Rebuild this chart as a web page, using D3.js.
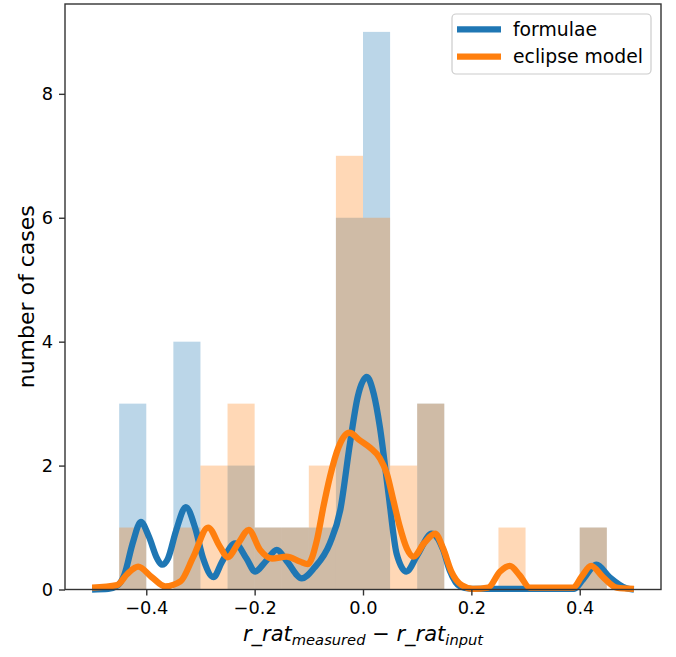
<!DOCTYPE html>
<html>
<head>
<meta charset="utf-8">
<script src="https://cdn.jsdelivr.net/npm/d3@7"></script>
<style>
  body { margin: 0; background: #fff; }
  text { font-family: "DejaVu Sans", sans-serif; fill: #000; }
</style>
</head>
<body>
<div id="chart"></div>
<script>
// histogram bins (width 0.05) and counts per series
const binEdges = [-0.45, -0.40, -0.35, -0.30, -0.25, -0.20, -0.15, -0.10, -0.05, 0.00,
                  0.05, 0.10, 0.15, 0.20, 0.25, 0.30, 0.35, 0.40, 0.45];
const formulaeCounts = [3, 0, 4, 0, 2, 1, 1, 1, 6, 9, 0, 3, 0, 0, 0, 0, 0, 1];
const eclipseCounts  = [1, 0, 1, 2, 3, 1, 1, 2, 7, 6, 2, 3, 0, 0, 1, 0, 0, 1];

// kde curves: [x, count]
const formulaeKde = [
  [-0.5, 0.0], [-0.47, 0.01], [-0.455, 0.05], [-0.44, 0.25], [-0.425, 0.75], [-0.41, 1.09],
  [-0.395, 0.85], [-0.38, 0.5], [-0.371, 0.40], [-0.36, 0.5], [-0.345, 0.95], [-0.327, 1.33],
  [-0.31, 1.0], [-0.295, 0.5], [-0.276, 0.2], [-0.26, 0.45], [-0.236, 0.745], [-0.215, 0.5],
  [-0.199, 0.29], [-0.18, 0.45], [-0.159, 0.64], [-0.14, 0.45], [-0.113, 0.18], [-0.09, 0.35],
  [-0.061, 0.75], [-0.042, 1.28], [-0.024, 2.36], [-0.01, 3.1], [0.007, 3.43], [0.02, 3.15],
  [0.031, 2.63], [0.047, 1.55], [0.062, 0.58], [0.08, 0.29], [0.1, 0.55], [0.127, 0.9],
  [0.148, 0.64], [0.16, 0.31], [0.179, 0.05], [0.2, 0.01], [0.39, 0.01], [0.405, 0.15],
  [0.431, 0.40], [0.455, 0.2], [0.486, 0.02], [0.5, 0.0]
];
const eclipseKde = [
  [-0.5, 0.03], [-0.454, 0.07], [-0.435, 0.25], [-0.415, 0.37], [-0.39, 0.2], [-0.365, 0.05],
  [-0.337, 0.13], [-0.313, 0.53], [-0.286, 1.0], [-0.264, 0.69], [-0.25, 0.52], [-0.23, 0.75],
  [-0.211, 0.96], [-0.19, 0.64], [-0.168, 0.50], [-0.141, 0.53], [-0.116, 0.45], [-0.102, 0.41],
  [-0.085, 0.80], [-0.073, 1.34], [-0.061, 1.82], [-0.045, 2.30], [-0.025, 2.53], [-0.006, 2.41],
  [0.013, 2.29], [0.031, 2.12], [0.044, 1.87], [0.056, 1.44], [0.068, 1.01], [0.081, 0.66],
  [0.093, 0.53], [0.113, 0.75], [0.133, 0.90], [0.148, 0.66], [0.163, 0.29], [0.182, 0.07],
  [0.203, 0.01], [0.231, 0.03], [0.253, 0.29], [0.271, 0.38], [0.289, 0.23], [0.308, 0.03],
  [0.388, 0.03], [0.403, 0.2], [0.421, 0.38], [0.443, 0.2], [0.468, 0.03], [0.5, 0.01]
];

const xTicks = [-0.4, -0.2, 0.0, 0.2, 0.4];
const yTicks = [0, 2, 4, 6, 8];
const seriesNames = ['formulae', 'eclipse model'];

const width = 676, height = 657;
const margin = {top: 4, right: 15, bottom: 67.5, left: 65};
const blue = '#1f77b4', orange = '#ff7f0e';
const lineW = 6.3;

const svg = d3.select('#chart')
    .append('svg')
    .attr('width', width)
    .attr('height', height);

const x = d3.scaleLinear().domain([-0.55, 0.55]).range([margin.left, width - margin.right]);
const y = d3.scaleLinear().domain([0, 9.45]).range([height - margin.bottom, margin.top]);

// histograms, orange drawn over blue
function drawHist(counts, color) {
    svg.append('g')
        .selectAll('rect')
        .data(counts.map((c, i) => ({x0: binEdges[i], x1: binEdges[i + 1], c: c})).filter(d => d.c > 0))
        .enter()
        .append('rect')
        .attr('x', d => x(d.x0))
        .attr('width', d => x(d.x1) - x(d.x0))
        .attr('y', d => y(d.c))
        .attr('height', d => y(0) - y(d.c))
        .attr('fill', color)
        .attr('fill-opacity', 0.3);
}
drawHist(formulaeCounts, blue);
drawHist(eclipseCounts, orange);

// kde lines
const line = d3.line()
    .x(d => x(d[0]))
    .y(d => y(d[1]))
    .curve(d3.curveMonotoneX);

[[formulaeKde, blue], [eclipseKde, orange]].forEach(([data, color]) => {
    svg.append('path')
        .attr('d', line(data))
        .attr('fill', 'none')
        .attr('stroke', color)
        .attr('stroke-width', lineW)
        .attr('stroke-linejoin', 'round');
});

// axes
const xAxis = svg.append('g')
    .attr('transform', `translate(0,${y(0)})`)
    .call(d3.axisBottom(x).tickValues(xTicks).tickSize(6).tickPadding(6)
        .tickFormat(d => d3.format('.1f')(d).replace('-', '\u2212')));
const yAxis = svg.append('g')
    .attr('transform', `translate(${x.range()[0]},0)`)
    .call(d3.axisLeft(y).tickValues(yTicks).tickSize(6).tickPadding(6));

[xAxis, yAxis].forEach(g => {
    g.select('.domain').remove();
    g.selectAll('.tick line').attr('stroke', '#333').attr('stroke-width', 1.4);
    g.selectAll('.tick text')
        .attr('font-family', '"DejaVu Sans", sans-serif')
        .attr('font-size', 17.8)
        .attr('fill', '#000');
});

// frame
svg.append('rect')
    .attr('x', x.range()[0])
    .attr('y', y.range()[1])
    .attr('width', x.range()[1] - x.range()[0])
    .attr('height', y.range()[0] - y.range()[1])
    .attr('fill', 'none')
    .attr('stroke', '#333')
    .attr('stroke-width', 1.4);

// y label
svg.append('text')
    .attr('transform', `translate(34,${(y.range()[0] + y.range()[1]) / 2}) rotate(-90)`)
    .attr('text-anchor', 'middle')
    .attr('font-size', 22)
    .text('number of cases');

// x label (mathtext-like)
const xl = svg.append('text')
    .attr('x', (x.range()[0] + x.range()[1]) / 2)
    .attr('y', 641)
    .attr('text-anchor', 'middle')
    .attr('font-size', 21);
xl.append('tspan').attr('font-style', 'italic').text('r_rat');
xl.append('tspan').attr('font-style', 'italic').attr('font-size', 14.7).attr('dy', 4).text('measured');
xl.append('tspan').attr('dy', -4).text(' \u2212 ');
xl.append('tspan').attr('font-style', 'italic').text('r_rat');
xl.append('tspan').attr('font-style', 'italic').attr('font-size', 14.7).attr('dy', 4).text('input');

// legend
const legend = svg.append('g');
legend.append('rect')
    .attr('x', 452).attr('y', 14)
    .attr('width', 199).attr('height', 60)
    .attr('rx', 4)
    .attr('fill', '#fff').attr('fill-opacity', 0.8)
    .attr('stroke', '#ccc').attr('stroke-width', 1.2);

[blue, orange].forEach((color, i) => {
    const ly = 29.3 + i * 27.4;
    legend.append('line')
        .attr('x1', 457).attr('x2', 501)
        .attr('y1', ly).attr('y2', ly)
        .attr('stroke', color).attr('stroke-width', lineW);
    legend.append('text')
        .attr('x', 513).attr('y', ly)
        .attr('dy', '0.35em')
        .attr('font-size', 18.8)
        .text(seriesNames[i]);
});
</script>
</body>
</html>
